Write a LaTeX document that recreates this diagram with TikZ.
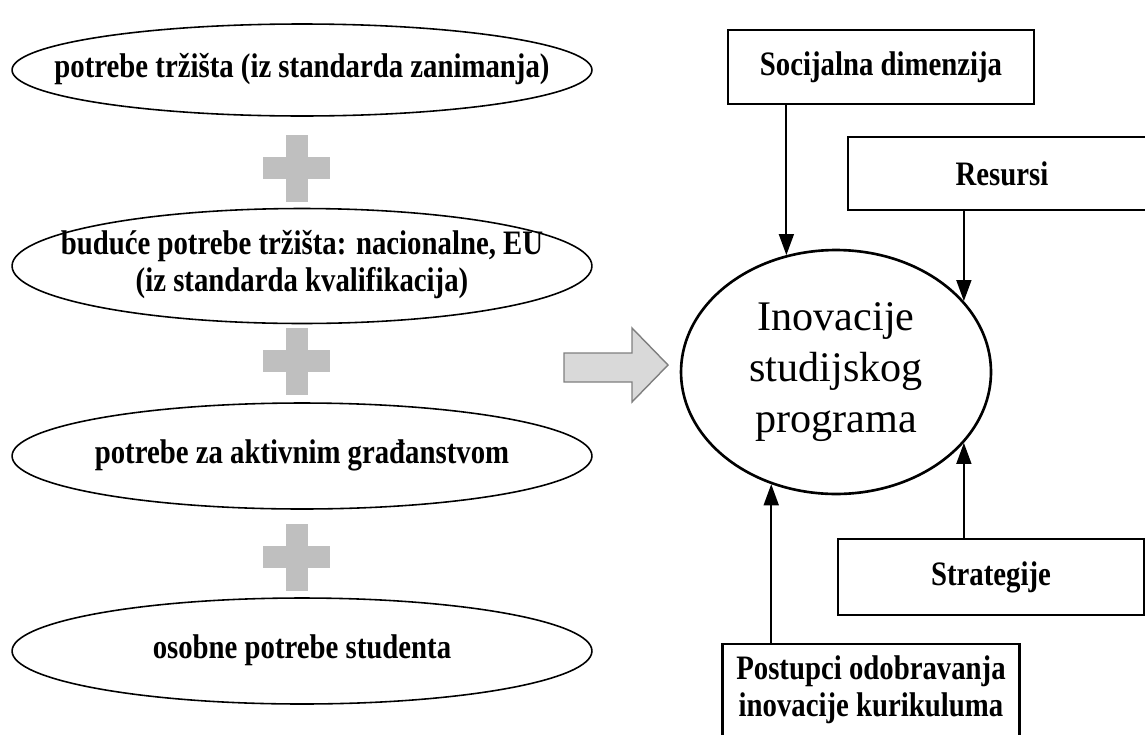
\documentclass[tikz,border=0pt]{standalone}
\usepackage{fontspec}
\setmainfont{Liberation Serif}
\newfontfamily\condfont[FakeStretch=0.84]{Liberation Serif}
\usetikzlibrary{shapes.geometric,arrows.meta}
\definecolor{plusgray}{HTML}{BFBFBF}
\definecolor{arrowfill}{HTML}{D9D9D9}
\definecolor{arrowline}{HTML}{7F7F7F}
\newcommand{\ztext}[1]{\makebox[0pt]{\begin{tabular}{@{}c@{}}#1\end{tabular}}}
\tikzset{
	need/.style={ellipse, draw, line width=0.9pt, minimum width=11.6cm, inner sep=0pt, font=\condfont\bfseries\fontsize{19.5}{21}\selectfont},
	factor/.style={rectangle, draw, line width=1.4pt, minimum width=6.12cm, inner sep=0pt, align=center, font=\condfont\bfseries\fontsize{19.5}{21}\selectfont},
	arr/.style={-{Triangle[length=12pt,width=8.5pt]}, line width=1.1pt}
}

\begin{document}
\begin{tikzpicture}[x=0.02cm, y=-0.02cm]
	\clip[use as bounding box] (0,0) rectangle (1145,734);

	\node[need, minimum height=1.84cm] (1) at (302,70) {\ztext{potrebe tržišta (iz standarda zanimanja)}};
	\node[need, minimum height=2.3cm] (2) at (302,266) {\ztext{buduće potrebe tržišta: nacionalne, EU\\(iz standarda kvalifikacija)}};
	\node[need, minimum height=2.12cm] (3) at (302,456) {\ztext{potrebe za aktivnim građanstvom}};
	\node[need, minimum height=2.12cm] (4) at (302,651) {\ztext{osobne potrebe studenta}};

	\foreach \y in {168,361,557}{
		\fill[plusgray] (296.5,\y) ++(-11,-33.5) rectangle ++(22,67);
		\fill[plusgray] (296.5,\y) ++(-33.5,-11) rectangle ++(67,22);
	}

	\draw[arrowline, fill=arrowfill, line width=0.8pt] (564,353) -- (632,353) -- (632,328) -- (668,365) -- (632,402) -- (632,382) -- (564,382) -- cycle;

	\node[ellipse, draw, line width=1.5pt, minimum width=6.2cm, minimum height=4.88cm, inner sep=0pt, align=center, font=\fontsize{24}{29}\selectfont] (inov) at (836,372) {Inovacije\\studijskog\\programa};

	\node[factor, minimum height=1.48cm] (soc) at (881,67) {Socijalna dimenzija};
	\node[factor, minimum height=1.46cm, minimum width=6.16cm] (res) at (1002,173.5) {Resursi};
	\node[factor, minimum height=1.52cm] (str) at (991,577) {Strategije};
	\node[factor, minimum height=1.84cm, minimum width=5.94cm] (post) at (871,690) {Postupci odobravanja\\inovacije kurikuluma};

	\draw[arr] (inov.113 |- soc.south) -- (inov.113);
	\draw[arr] (inov.29 |- res.south) -- (inov.29);
	\draw[arr] (inov.-29 |- str.north) -- (inov.-29);
	\draw[arr] (inov.-120 |- post.north) -- (inov.-120);
\end{tikzpicture}
\end{document}
